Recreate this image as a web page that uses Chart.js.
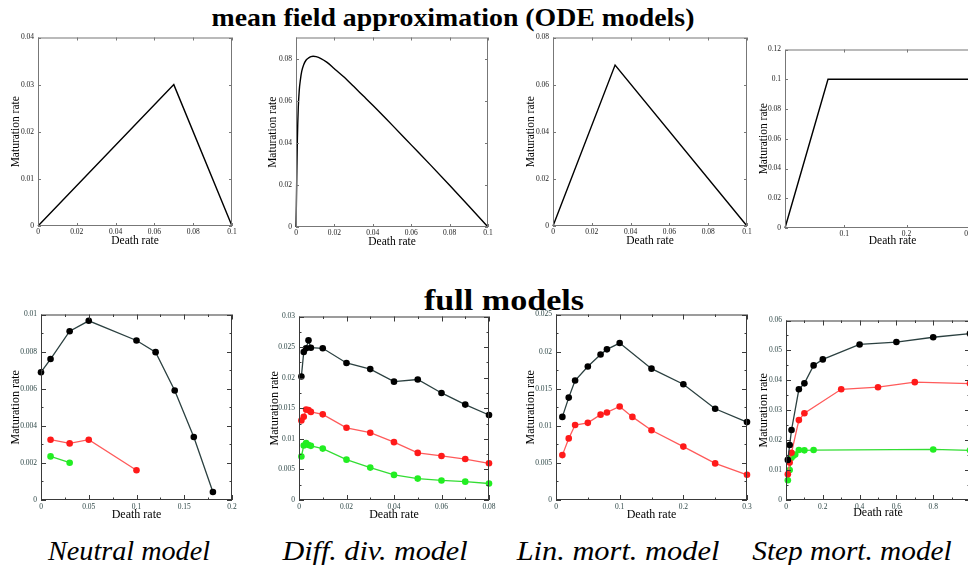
<!DOCTYPE html>
<html>
<head>
<meta charset="utf-8">
<script src="https://cdn.jsdelivr.net/npm/chart.js@4/dist/chart.umd.min.js"></script>
<style>
  html, body { margin: 0; padding: 0; background: #fff; }
  body { width: 968px; height: 565px; overflow: hidden; position: relative; }
  canvas { position: absolute; }
  .lbl { position: absolute; white-space: nowrap; transform: translateX(-50%); line-height: 1; color: #000; }
  .head { font: bold 26px "Liberation Serif", serif; }
  .head2 { font: bold 29px "Liberation Serif", serif; }
  .cap { font: italic 28px "Liberation Serif", serif; }
</style>
</head>
<body>
<div class="lbl head" data-w="483" style="left:453px;top:3px">mean field approximation (ODE models)</div>
<div class="lbl head2" data-w="160" style="left:504px;top:284px">full models</div>
<div class="lbl cap" data-w="162" style="left:129px;top:535px">Neutral model</div>
<div class="lbl cap" data-w="185" style="left:375px;top:535px">Diff. div. model</div>
<div class="lbl cap" data-w="203" style="left:618px;top:535px">Lin. mort. model</div>
<div class="lbl cap" data-w="200" style="left:852px;top:535px">Step mort. model</div>

<canvas id="ode1"></canvas>
<canvas id="ode2"></canvas>
<canvas id="ode3"></canvas>
<canvas id="ode4"></canvas>
<canvas id="full1"></canvas>
<canvas id="full2"></canvas>
<canvas id="full3"></canvas>
<canvas id="full4"></canvas>

<script>
// ---------------- mean field (ODE) curves ----------------
const neutralOdeX = [0, 0.07, 0.1];
const neutralOdeY = [0, 0.03, 0];

const diffDivOdeX = [0, 0.0002, 0.0004, 0.0007, 0.0012, 0.0017, 0.0023, 0.003, 0.004, 0.0052, 0.0066, 0.0078,
  0.0089, 0.0105, 0.013, 0.016, 0.02, 0.025, 0.03, 0.035, 0.04, 0.05, 0.06, 0.07, 0.08, 0.09, 0.1];
const diffDivOdeY = [0, 0.011, 0.024, 0.041, 0.057, 0.065, 0.070, 0.074, 0.0771, 0.0792, 0.0803, 0.0809,
  0.0811, 0.0809, 0.080, 0.0783, 0.0752, 0.0712, 0.0668, 0.0623, 0.0578, 0.0485, 0.039, 0.0295, 0.0198, 0.01, 0];

const linMortOdeX = [0, 0.032, 0.1];
const linMortOdeY = [0, 0.0683, 0];

const stepMortOdeX = [0.005, 0.074, 0.35];
const stepMortOdeY = [0, 0.1, 0.1];

// ---------------- full models: black / red / green series ----------------
const neutralBlackX = [0, 0.01, 0.03, 0.05, 0.1, 0.12, 0.14, 0.16, 0.18];
const neutralBlackY = [0.00689, 0.0076, 0.0091, 0.00966, 0.0086, 0.00797, 0.0059, 0.0034, 0.00043];
const neutralRedX = [0.01, 0.03, 0.05, 0.1];
const neutralRedY = [0.00325, 0.00305, 0.00325, 0.0016];
const neutralGreenX = [0.01, 0.03];
const neutralGreenY = [0.00235, 0.00201];

const diffDivX = [0.001, 0.002, 0.003, 0.004, 0.005, 0.01, 0.02, 0.03, 0.04, 0.05, 0.06, 0.07, 0.08];
const diffDivBlackY = [0.0202, 0.0242, 0.0248, 0.0261, 0.0249, 0.0248, 0.0224, 0.0214, 0.01935, 0.0197, 0.0175, 0.0156, 0.0139];
const diffDivRedY = [0.0130, 0.0136, 0.0148, 0.0147, 0.0144, 0.0140, 0.0118, 0.0110, 0.00946, 0.0077, 0.0072, 0.0067, 0.0060];
const diffDivGreenY = [0.0071, 0.0089, 0.0093, 0.0090, 0.00885, 0.0084, 0.0066, 0.0053, 0.0041, 0.0035, 0.0032, 0.0030, 0.0027];

const linMortBlackX = [0.01, 0.02, 0.03, 0.05, 0.07, 0.08, 0.1, 0.15, 0.2, 0.25, 0.3];
const linMortBlackY = [0.0112, 0.0138, 0.0161, 0.0180, 0.0196, 0.0203, 0.02115, 0.0177, 0.0156, 0.0123, 0.0105];
const linMortRedX = [0.01, 0.02, 0.03, 0.05, 0.07, 0.08, 0.1, 0.12, 0.15, 0.2, 0.25, 0.3];
const linMortRedY = [0.00605, 0.0083, 0.0101, 0.0104, 0.0115, 0.0118, 0.0126, 0.0112, 0.0094, 0.0072, 0.00493, 0.0034];

const stepMortBlackX = [0.01, 0.02, 0.03, 0.07, 0.1, 0.15, 0.2, 0.4, 0.6, 0.8, 1.0];
const stepMortBlackY = [0.0134, 0.0184, 0.0234, 0.037, 0.039, 0.045, 0.047, 0.052, 0.0528, 0.0544, 0.0556];
const stepMortRedX = [0.01, 0.02, 0.03, 0.07, 0.1, 0.3, 0.5, 0.7, 1.0];
const stepMortRedY = [0.0086, 0.0125, 0.0158, 0.0267, 0.029, 0.037, 0.0377, 0.0394, 0.0389];
const stepMortGreenX = [0.01, 0.02, 0.03, 0.04, 0.05, 0.07, 0.1, 0.15, 0.8, 1.0];
const stepMortGreenY = [0.0066, 0.0100, 0.0141, 0.0148, 0.0152, 0.0167, 0.0166, 0.0167, 0.0169, 0.0166];

// ---------------- tick values ----------------
const ticksTenth = [0, 0.02, 0.04, 0.06, 0.08, 0.1];
const ticksY04 = [0, 0.01, 0.02, 0.03, 0.04];
const ticksY08 = [0, 0.02, 0.04, 0.06, 0.08];
const ticksY12 = [0, 0.02, 0.04, 0.06, 0.08, 0.1, 0.12];
const ticksStepOdeX = [0.1, 0.2, 0.3];

const ticksNeutralX = [0, 0.05, 0.1, 0.15, 0.2];
const ticksNeutralY = [0, 0.002, 0.004, 0.006, 0.008, 0.01];
const ticksDiffDivX = [0, 0.02, 0.04, 0.06, 0.08];
const ticksDiffDivY = [0, 0.005, 0.01, 0.015, 0.02, 0.025, 0.03];
const ticksLinMortX = [0, 0.1, 0.2, 0.3];
const ticksLinMortY = [0, 0.005, 0.01, 0.015, 0.02, 0.025];
const ticksStepMortX = [0, 0.2, 0.4, 0.6, 0.8, 1];
const ticksStepMortY = [0, 0.01, 0.02, 0.03, 0.04, 0.05, 0.06];

// stretch the heading/caption texts to the widths of the original lettering
document.querySelectorAll('.lbl').forEach(el => {
  const s = (+el.dataset.w) / el.offsetWidth;
  el.style.transform = 'translateX(-50%) scaleX(' + s.toFixed(3) + ')';
});

function pts(xs, ys) {
  return xs.map((x, i) => ({ x: x, y: ys[i] }));
}

// frame with inward ticks on all four sides
const frameTicks = {
  id: 'frameTicks',
  afterDraw(chart, args, opts) {
    const { ctx, chartArea: a } = chart;
    const sx = chart.scales.x, sy = chart.scales.y;
    ctx.save();
    ctx.strokeStyle = opts.color;
    ctx.lineWidth = 1;
    ctx.strokeRect(a.left + 0.5, a.top + 0.5, a.right - a.left - 1, a.bottom - a.top - 1);
    ctx.beginPath();
    const tx = (v, l) => {
      const p = Math.round(sx.getPixelForValue(v)) + 0.5;
      if (p < a.left || p > a.right + 1) return;
      ctx.moveTo(p, a.bottom); ctx.lineTo(p, a.bottom - l);
      ctx.moveTo(p, a.top); ctx.lineTo(p, a.top + l);
    };
    const ty = (v, l) => {
      const p = Math.round(sy.getPixelForValue(v)) + 0.5;
      if (p < a.top - 1 || p > a.bottom + 1) return;
      ctx.moveTo(a.left, p); ctx.lineTo(a.left + l, p);
      ctx.moveTo(a.right, p); ctx.lineTo(a.right - l, p);
    };
    const xv = sx.ticks.map(t => t.value), yv = sy.ticks.map(t => t.value);
    xv.forEach(v => tx(v, opts.len));
    yv.forEach(v => ty(v, opts.len));
    if (opts.minor) {
      for (let i = 0; i < xv.length - 1; i++) tx((xv[i] + xv[i + 1]) / 2, opts.len / 2);
      for (let i = 0; i < yv.length - 1; i++) ty((yv[i] + yv[i + 1]) / 2, opts.len / 2);
    }
    ctx.stroke();
    ctx.restore();
  }
};

const fmt = v => String(+v.toFixed(4));

function makeChart(id, box, sc, datasets, look) {
  const L = 44, T = 8, R = 14, B = 34;
  const cv = document.getElementById(id);
  cv.width = box.r - box.l + L + R;
  cv.height = box.b - box.t + T + B;
  cv.style.left = (box.l - L) + 'px';
  cv.style.top = (box.t - T) + 'px';
  const tickFont = { family: 'Liberation Serif', size: look.tickSize };
  const titleFont = { family: 'Liberation Serif', size: look.titleSize, lineHeight: 1.2 };
  const lh = look.titleSize * 1.2;
  const xPad = (box.b + B) - look.xTitleY - lh / 2;
  const yPad = look.yTitleX - (box.l - L) - lh / 2;

  new Chart(cv, {
    type: 'line',
    data: { datasets: datasets },
    options: {
      responsive: false,
      animation: false,
      events: [],
      layout: { padding: { left: 0, top: T, right: R, bottom: 0 } },
      plugins: { legend: { display: false }, tooltip: { enabled: false }, frameTicks: look.frame },
      scales: {
        x: {
          type: 'linear', min: sc.xmin, max: sc.xmax,
          grid: { display: false, drawTicks: false }, border: { display: false },
          afterBuildTicks: s => { s.ticks = sc.xt.map(v => ({ value: v })); },
          afterFit: s => { s.height = B; },
          ticks: { font: tickFont, color: look.tickColor, padding: look.xTickPad, maxRotation: 0, autoSkip: false, callback: fmt },
          title: { display: true, text: 'Death rate', font: titleFont, color: '#000', padding: { top: 0, bottom: xPad } }
        },
        y: {
          type: 'linear', min: sc.ymin, max: sc.ymax,
          grid: { display: false, drawTicks: false }, border: { display: false },
          afterBuildTicks: s => { s.ticks = sc.yt.map(v => ({ value: v })); },
          afterFit: s => { s.width = L; },
          ticks: { font: tickFont, color: look.tickColor, padding: 4, autoSkip: false, callback: fmt },
          title: { display: true, text: 'Maturation rate', font: titleFont, color: '#000', padding: { top: yPad, bottom: 0 } }
        }
      }
    },
    plugins: [frameTicks]
  });
}

function odeLine(xs, ys, smooth) {
  return {
    data: pts(xs, ys), borderColor: '#000', borderWidth: 1.4, pointRadius: 0,
    cubicInterpolationMode: smooth ? 'monotone' : 'default', clip: false
  };
}
function fullLine(xs, ys, line, dot) {
  return {
    data: pts(xs, ys), borderColor: line, borderWidth: 1.3,
    pointRadius: 3.3, pointBackgroundColor: dot, pointBorderColor: dot, pointBorderWidth: 0, clip: false
  };
}
const BLACK = ['#2b4040', '#000'], RED = ['#ff5a5a', '#ff1a1a'], GREEN = ['#33dd33', '#22ee22'];

const odeLook = (xTitleY, yTitleX) => ({
  tickSize: 7.5, titleSize: 11.5, tickColor: '#222', xTickPad: 2, xTitleY: xTitleY, yTitleX: yTitleX,
  frame: { color: '#777', len: 3, minor: false }
});
const fullLook = (xTitleY, yTitleX) => ({
  tickSize: 7.5, titleSize: 12, tickColor: '#2f4848', xTickPad: 3, xTitleY: xTitleY, yTitleX: yTitleX,
  frame: { color: '#3a3a3a', len: 5, minor: true }
});

// ---- top row ----
makeChart('ode1', { l: 38, t: 37, r: 232, b: 226 },
  { xmin: 0, xmax: 0.1, ymin: 0, ymax: 0.04, xt: ticksTenth, yt: ticksY04 },
  [odeLine(neutralOdeX, neutralOdeY)], odeLook(241, 16));
makeChart('ode2', { l: 296, t: 37, r: 488, b: 227 },
  { xmin: 0, xmax: 0.1, ymin: 0, ymax: 0.09, xt: ticksTenth, yt: ticksY08 },
  [odeLine(diffDivOdeX, diffDivOdeY, true)], odeLook(242, 273));
makeChart('ode3', { l: 553, t: 37, r: 747, b: 226 },
  { xmin: 0, xmax: 0.1, ymin: 0, ymax: 0.08, xt: ticksTenth, yt: ticksY08 },
  [odeLine(linMortOdeX, linMortOdeY)], odeLook(241, 531));
makeChart('ode4', { l: 785, t: 49, r: 1000, b: 228 },
  { xmin: 0.005, xmax: 0.35, ymin: 0, ymax: 0.12, xt: ticksStepOdeX, yt: ticksY12 },
  [odeLine(stepMortOdeX, stepMortOdeY)], odeLook(241, 764));

// ---- bottom row ----
makeChart('full1', { l: 41, t: 314, r: 232, b: 500 },
  { xmin: 0, xmax: 0.2, ymin: 0, ymax: 0.01, xt: ticksNeutralX, yt: ticksNeutralY },
  [fullLine(neutralBlackX, neutralBlackY, ...BLACK),
   fullLine(neutralRedX, neutralRedY, ...RED),
   fullLine(neutralGreenX, neutralGreenY, ...GREEN)], fullLook(515, 16));
makeChart('full2', { l: 299, t: 316, r: 489, b: 500 },
  { xmin: 0, xmax: 0.08, ymin: 0, ymax: 0.03, xt: ticksDiffDivX, yt: ticksDiffDivY },
  [fullLine(diffDivX, diffDivBlackY, ...BLACK),
   fullLine(diffDivX, diffDivRedY, ...RED),
   fullLine(diffDivX, diffDivGreenY, ...GREEN)], fullLook(515, 275));
makeChart('full3', { l: 556, t: 314, r: 747, b: 500 },
  { xmin: 0, xmax: 0.3, ymin: 0, ymax: 0.025, xt: ticksLinMortX, yt: ticksLinMortY },
  [fullLine(linMortBlackX, linMortBlackY, ...BLACK),
   fullLine(linMortRedX, linMortRedY, ...RED)], fullLook(515, 531));
makeChart('full4', { l: 786, t: 320, r: 970, b: 500 },
  { xmin: 0, xmax: 1, ymin: 0, ymax: 0.06, xt: ticksStepMortX, yt: ticksStepMortY },
  [fullLine(stepMortBlackX, stepMortBlackY, ...BLACK),
   fullLine(stepMortRedX, stepMortRedY, ...RED),
   fullLine(stepMortGreenX, stepMortGreenY, ...GREEN)], fullLook(513, 764));
</script>
</body>
</html>
